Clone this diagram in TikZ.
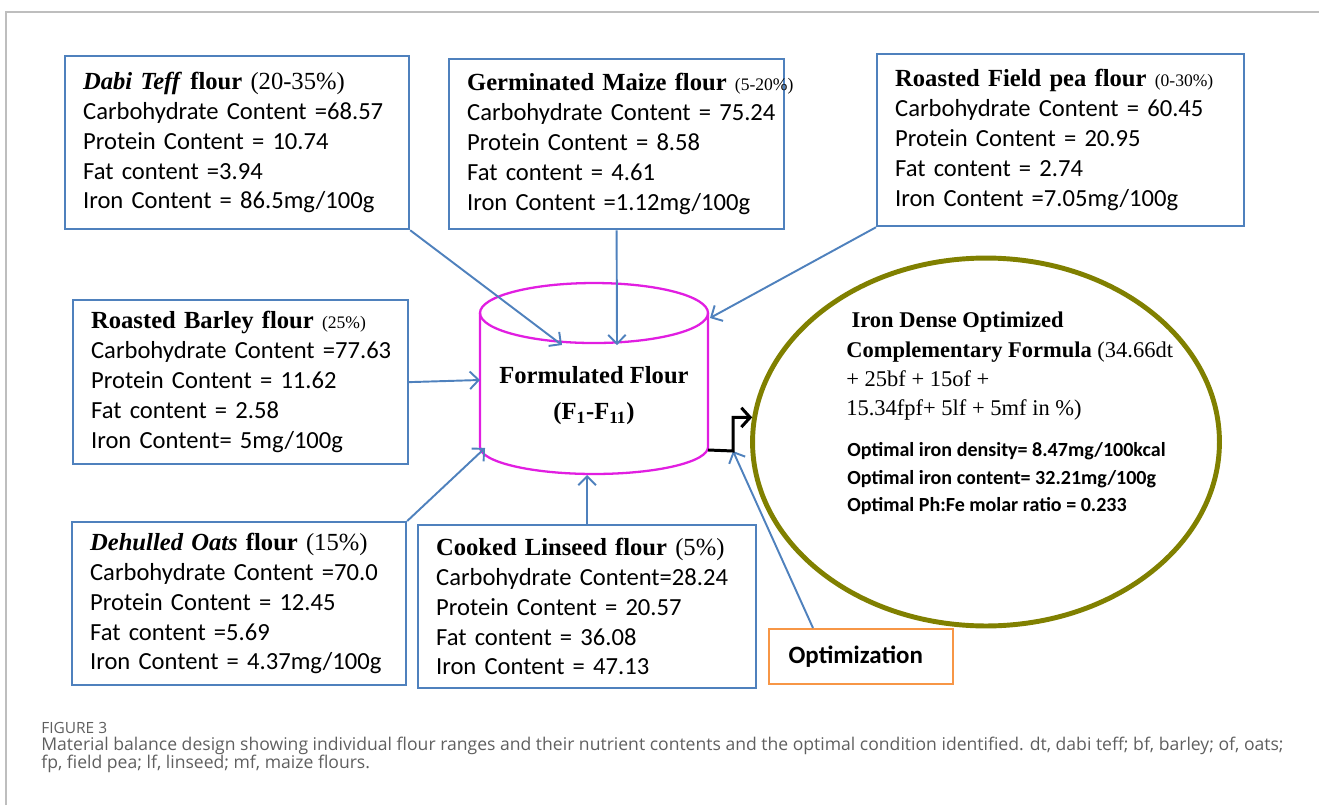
\documentclass[tikz,border=0pt]{standalone}
\usepackage{fontspec}
\setmainfont{Liberation Serif}
\newfontfamily\calibri{Carlito}
\newfontfamily\capsans{Open Sans}
\usetikzlibrary{shapes.geometric,arrows.meta,positioning}

\definecolor{boxblue}{RGB}{79,129,189}
\definecolor{tankpink}{RGB}{225,30,225}
\definecolor{olivering}{RGB}{128,128,0}
\definecolor{optorange}{RGB}{247,150,70}
\definecolor{framegray}{RGB}{190,190,190}
\definecolor{captiongray}{RGB}{95,95,95}

\tikzset{
  flourbox/.style={draw=boxblue, line width=1.3pt, anchor=north west, align=left,
    inner xsep=0.36cm, inner ysep=0pt,
    font=\calibri\fontsize{14}{17}\selectfont},
  tankline/.style={draw=tankpink, line width=1.3pt},
  feed/.style={draw=boxblue, line width=1.1pt,
    -{Straight Barb[length=5pt,width=10pt,line width=1.1pt]}},
}
% flour heading in serif, range in smaller type
\newcommand{\ttl}[1]{\mbox{\rmfamily\fontsize{14}{17}\selectfont #1}}
\newcommand{\pct}[1]{{\rmfamily\fontsize{10}{12}\selectfont #1}}

\begin{document}
\begin{tikzpicture}[x=0.02cm,y=-0.02cm]
  \useasboundingbox (0,0) rectangle (1319,805);
  \draw[framegray, line width=0.8pt] (6,805) -- (6,12) -- (1319,12);

  % ingredient boxes
  \node[flourbox, minimum width=6.88cm, text width=6.16cm, minimum height=3.46cm] (teff) at (64,55)
    {\ttl{\textbf{\textit{Dabi Teff}} \textbf{flour} (20-35\%)}\\
     \mbox{Carbohydrate Content =68.57}\\ Protein Content = 10.74\\
     Fat content =3.94\\ Iron Content = 86.5mg/100g};
  \node[flourbox, minimum width=6.70cm, text width=5.98cm, minimum height=3.40cm] (maize) at (448,58)
    {\ttl{\textbf{Germinated Maize flour} \pct{(5-20\%)}}\\
     \mbox{Carbohydrate Content = 75.24}\\ Protein Content = 8.58\\
     Fat content = 4.61\\ Iron Content =1.12mg/100g};
  \node[flourbox, minimum width=7.34cm, text width=6.62cm, minimum height=3.44cm] (fieldpea) at (876,53)
    {\ttl{\textbf{Roasted Field pea flour} \pct{(0-30\%)}}\\
     \mbox{Carbohydrate Content = 60.45}\\ Protein Content = 20.95\\
     Fat content = 2.74\\ Iron Content =7.05mg/100g};
  \node[flourbox, minimum width=6.70cm, text width=5.98cm, minimum height=3.28cm] (barley) at (72,299)
    {\ttl{\textbf{Roasted Barley flour} \pct{(25\%)}}\\
     \mbox{Carbohydrate Content =77.63}\\ Protein Content = 11.62\\
     Fat content = 2.58\\ Iron Content= 5mg/100g};
  \node[flourbox, minimum width=6.68cm, text width=5.96cm, minimum height=3.26cm] (oats) at (71,521)
    {\ttl{\textbf{\textit{Dehulled Oats} flour} (15\%)}\\
     \mbox{Carbohydrate Content =70.0}\\ Protein Content = 12.45\\
     Fat content =5.69\\ Iron Content = 4.37mg/100g};
  \node[flourbox, minimum width=6.76cm, text width=6.04cm, minimum height=3.26cm] (linseed) at (417,524)
    {\ttl{\textbf{Cooked Linseed flour} (5\%)}\\
     \mbox{Carbohydrate Content=28.24}\\ Protein Content = 20.57\\
     Fat content = 36.08\\ Iron Content = 47.13};

  % mixing tank: body between the two rims
  \node[minimum width=4.56cm, minimum height=2.68cm, inner sep=0pt, outer sep=0pt] (flour) at (594,380) {};
  \draw[tankline] (flour.north west) -- (flour.south west)
    arc[start angle=180, end angle=0, x radius=114, y radius=27] -- (flour.north east);
  \draw[tankline] (flour.north) ellipse [x radius=114, y radius=30];
  \node[font=\bfseries\fontsize{14}{20.5}\selectfont, align=center] (flourname) at (594,396)
    {Formulated Flour\\(F\textsubscript{1}-F\textsubscript{11})};

  % optimum
  \node[ellipse, draw=olivering, line width=2.8pt, minimum width=9.34cm, minimum height=7.36cm] (optimum) at (986,442) {};
  \node[anchor=north west, align=left, inner sep=0pt, font=\fontsize{12.8}{16.6}\selectfont] (formula) at (846,312)
    {\hspace*{3pt}\textbf{Iron Dense Optimized}\\
     \textbf{Complementary Formula} (34.66dt\\
     + 25bf + 15of +\\
     15.34fpf+ 5lf + 5mf in \%)};
  \node[anchor=north west, align=left, inner sep=0pt, font=\calibri\bfseries\fontsize{11.4}{15.8}\selectfont] (optvalues) at (847,442)
    {Optimal iron density= 8.47mg/100kcal\\
     Optimal iron content= 32.21mg/100g\\
     Optimal Ph:Fe molar ratio = 0.233};

  \node[draw=optorange, line width=1.2pt, anchor=north west, minimum width=3.68cm, minimum height=1.1cm,
        font=\calibri\bfseries\fontsize{14.2}{17}\selectfont] (optim) at (768,628) {Optimization\hspace*{6pt}};

  % connectors
  \coordinate (bend) at (733,451);
  \coordinate (tankfloor) at ([shift={(0,28)}]flour.south);
  \draw[feed] (teff.south east) -- ([shift={(-32,32)}]flour.north);
  \draw[feed] (maize.south) -- ([shift={(23,32)}]flour.north);
  \draw[feed] (fieldpea.south west) -- ([shift={(2,5)}]flour.north east);
  \draw[feed] (barley.east) -- (flour.west);
  \draw[feed] (oats.north east) -- ([shift={(5,1)}]flour.south west);
  \draw[feed] (linseed.north) -- (linseed.north |- tankfloor);
  \draw[feed] ([shift={(45,0)}]optim.north west) -- (bend);
  \draw[line width=1.7pt, -{Straight Barb[length=5pt,width=11pt,line width=1.7pt]}]
    ([shift={(0,3)}]flour.south east) -- (bend) |- (optimum.174);

  % caption
  \node[anchor=west, inner sep=0pt, text=captiongray, font=\capsans\fontsize{8.8}{10}\selectfont] (figlabel) at (41,728) {FIGURE 3};
  \node[anchor=north west, inner sep=0pt, align=left, text=captiongray, font=\capsans\fontsize{10}{10.25}\selectfont] (caption) at (41,737)
    {Material balance design showing individual flour ranges and their nutrient contents and the optimal condition identified. dt, dabi teff; bf, barley; of, oats;\\
     fp, field pea; lf, linseed; mf, maize flours.};
\end{tikzpicture}
\end{document}
